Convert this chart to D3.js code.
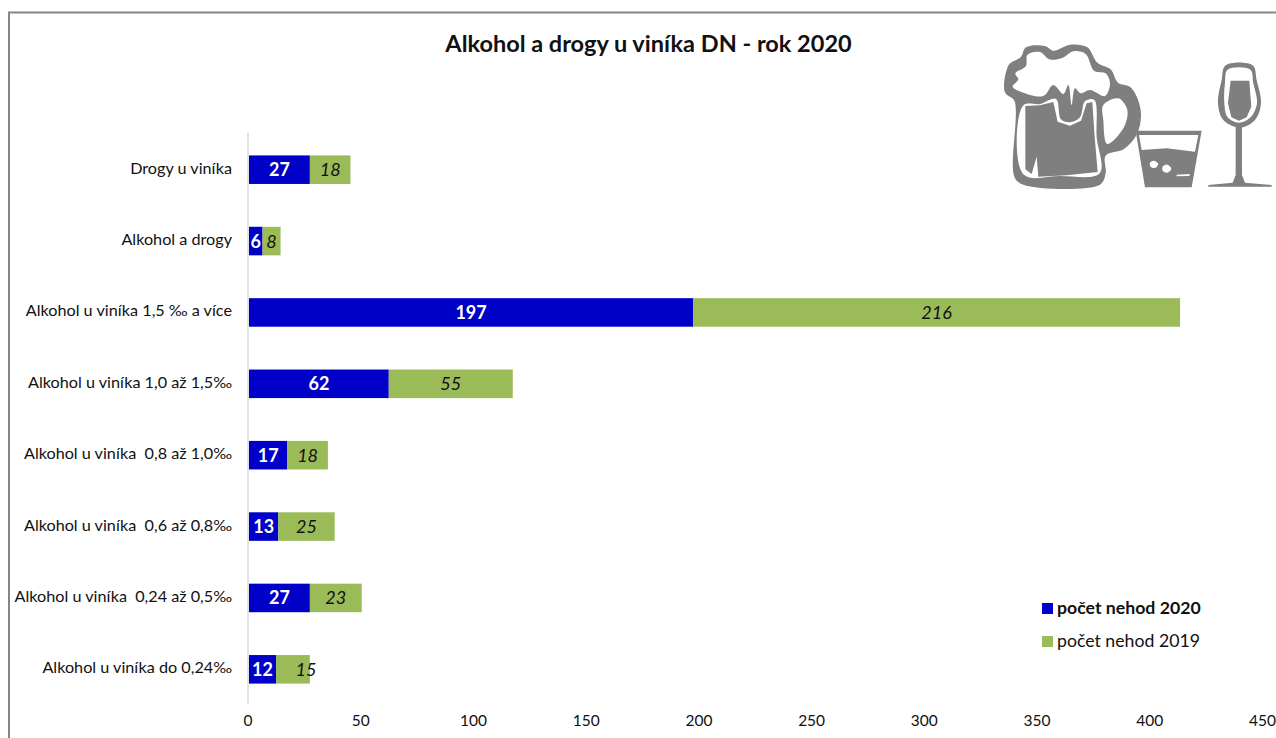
<!DOCTYPE html>
<html><head><meta charset="utf-8">
<script src="https://cdn.jsdelivr.net/npm/d3@7/dist/d3.min.js"></script>
<style>
html,body{margin:0;padding:0;background:#fff;overflow:hidden}
svg{display:block}
text{font-family:Lato,"Open Sans",sans-serif;fill:#111;white-space:pre}
</style></head><body>
<svg id="c" width="1276" height="738"></svg>
<script>
const categories=["Drogy u viníka","Alkohol a drogy","Alkohol u viníka 1,5 ‰ a více","Alkohol u viníka 1,0 až 1,5‰","Alkohol u viníka  0,8 až 1,0‰","Alkohol u viníka  0,6 až 0,8‰","Alkohol u viníka  0,24 až 0,5‰","Alkohol u viníka do 0,24‰"];
const values2020=[27,6,197,62,17,13,27,12];
const values2019=[18,8,216,55,18,25,23,15];
const seriesNames=["počet nehod 2020","počet nehod 2019"];
const tickValues=[0,50,100,150,200,250,300,350,400,450];
const title="Alkohol a drogy u viníka DN - rok 2020";
const BLUE="#0000c8",GREEN="#9bbb59",GRAY="#7f7f7f";

const svg=d3.select("#c");
svg.append("rect").attr("x",9).attr("y",12.5).attr("width",1290).attr("height",760).attr("fill","#fff").attr("stroke","#868686").attr("stroke-width",2);
svg.append("text").attr("x",648.5).attr("y",52).attr("text-anchor","middle").attr("font-size",23.5).attr("font-weight",700).text(title);

const x=d3.scaleLinear().domain([0,450]).range([249,1263.5]);
const y=d3.scaleBand().domain(categories).range([134,705]).paddingInner(0.6).paddingOuter(0.3);

svg.append("line").attr("x1",248).attr("x2",248).attr("y1",133).attr("y2",704).attr("stroke","#d9d9d9").attr("stroke-width",1.5);

const rows=svg.append("g").selectAll("g").data(categories).join("g");
rows.append("text").attr("x",232).attr("y",c=>y(c)+y.bandwidth()/2+4).attr("text-anchor","end").attr("font-size",16.2).text(c=>c);
rows.append("rect").attr("x",x(0)).attr("y",c=>y(c)).attr("height",y.bandwidth())
  .attr("width",(c,i)=>x(values2020[i])-x(0)).attr("fill",BLUE);
rows.append("rect").attr("x",(c,i)=>x(values2020[i])).attr("y",c=>y(c)).attr("height",y.bandwidth())
  .attr("width",(c,i)=>x(values2020[i]+values2019[i])-x(values2020[i])).attr("fill",GREEN);
rows.append("text").attr("x",(c,i)=>x(values2020[i]/2)).attr("y",c=>y(c)+y.bandwidth()/2+6.5)
  .attr("text-anchor","middle").attr("font-size",18).attr("font-weight",700).style("fill","#fff").text((c,i)=>values2020[i]);
rows.append("text").attr("x",(c,i)=>x(values2020[i]+values2019[i]/2)+(values2019[i]===15?13:0)).attr("y",c=>y(c)+y.bandwidth()/2+6.5)
  .attr("text-anchor","middle").attr("font-size",18).attr("font-style","italic").style("fill","#111").text((c,i)=>values2019[i]);

const ax=svg.append("g").attr("transform","translate(-1.5,704)").call(d3.axisBottom(x).tickValues(tickValues).tickSize(0).tickPadding(11));
ax.select(".domain").remove();
ax.selectAll("text").attr("font-size",15.5).style("font-family","Lato").style("fill","#111");

const leg=svg.append("g").selectAll("g").data(seriesNames).join("g");
leg.append("rect").attr("x",1042).attr("y",(d,i)=>603+i*33).attr("width",11).attr("height",11).attr("fill",(d,i)=>i?GREEN:BLUE);
leg.append("text").attr("x",1057).attr("y",(d,i)=>614+i*32.5).attr("font-size",17.7).attr("font-weight",(d,i)=>i?400:700).text(d=>d);

// decorative icons
const ic=svg.append("g").attr("transform","translate(990,40) scale(0.3333)");
const line=d3.line().curve(d3.curveCatmullRomClosed.alpha(0.5));
const poly=d3.line().curve(d3.curveLinearClosed);
const P=(pts,f,g=line)=>ic.append("path").attr("d",g(pts)).attr("fill",f);
// mug
P([[42,140],[58,72],[92,52],[108,22],[165,18],[190,32],[240,14],[292,22],[322,68],[362,88],[384,128],[422,142],[452,210],[442,280],[402,327],[347,347],[347,400],[330,434],[100,434],[73,410],[73,182],[48,162]],GRAY);
P([[76,100],[108,78],[112,45],[150,36],[178,58],[215,55],[250,34],[287,42],[312,92],[347,100],[360,130],[345,168],[300,150],[272,160],[255,145],[245,195],[235,135],[220,162],[190,135],[160,168],[100,158],[68,140],[85,118]],"#fff");
P([[340,195],[385,175],[412,210],[400,265],[352,312],[340,240]],"#fff");
P([[99,197],[150,192],[198,177],[213,238],[240,247],[270,232],[285,184],[313,180],[320,290],[329,400],[210,408],[100,403]],"#fff");
P([[106,198],[150,196],[190,186],[203,245],[240,257],[273,242],[290,190],[307,186],[314,290],[323,396],[230,406],[145,410],[140,350],[125,402],[106,388]],GRAY,poly);
// tumbler
P([[437,272],[635,272],[605,442],[465,442]],GRAY,poly);
P([[447,285],[625,285],[615,335],[530,325],[455,330]],"#fff",poly);
P([[480,368],[492,362],[505,372],[495,384],[482,380]],"#fff");
P([[518,380],[532,374],[544,386],[532,398],[518,392]],"#fff");
P([[560,404],[600,402],[598,408],[560,409]],"#fff",poly);
// wine glass
P([[707,76],[788,76],[800,120],[813,190],[795,240],[750,263],[700,240],[684,190],[695,120]],GRAY);
P([[737,250],[756,250],[756,405],[765,428],[845,435],[845,440],[655,440],[655,435],[728,428],[737,405]],GRAY,poly);
P([[713,89],[781,89],[790,130],[801,190],[782,232],[747,248],[713,232],[703,190],[705,130]],"#fff");
P([[722,122],[778,122],[784,200],[770,232],[747,242],[724,232],[714,190]],GRAY,poly);
</script>
</body></html>
